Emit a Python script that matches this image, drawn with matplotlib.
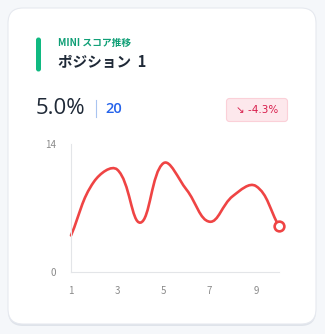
import matplotlib
matplotlib.use('Agg')
import matplotlib.pyplot as plt
from matplotlib.patches import FancyBboxPatch, PathPatch
from matplotlib.path import Path

plt.rcParams['font.family'] = ['Noto Sans CJK JP', 'DejaVu Sans']

# data
positions = [1, 2, 3, 4, 5, 6, 7, 8, 9, 10]
scores = [4.0, 9.9, 11.2, 5.4, 11.9, 9.0, 5.5, 8.3, 9.4, 5.0]
x_ticks = [1, 3, 5, 7, 9]
y_ticks = [0, 14]
subtitle = 'MINI スコア推移'
title = 'ポジション  1'
current_value = '5.0%'
rank_value = '20'
change_label = '↘ -4.3%'

W, H = 325, 334
fig = plt.figure(figsize=(W / 100, H / 100), dpi=100)
fig.patch.set_facecolor('#f5f7fa')

# background layer in pixel coordinates
bg = fig.add_axes([0, 0, 1, 1])
bg.set_xlim(0, W)
bg.set_ylim(H, 0)
bg.axis('off')

# card with shadow
bg.add_patch(FancyBboxPatch((8, 10), 308, 316, boxstyle='round,pad=0,rounding_size=15',
                            fc='#dfe3ea', ec='none'))
bg.add_patch(FancyBboxPatch((8, 8), 308, 316, boxstyle='round,pad=0,rounding_size=15',
                            fc='white', ec='#e6e9ef', lw=0.8))

# header
bg.add_patch(FancyBboxPatch((36, 37.5), 5, 34, boxstyle='round,pad=0,rounding_size=2.5',
                            fc='#10b981', ec='none'))
bg.text(58, 42.5, subtitle, fontsize=7, color='#0f9f76', fontweight='bold', va='center')
bg.text(58, 62, title, fontsize=10.5, color='#1f2937', fontweight='bold', va='center')

# value row
bg.text(36, 108, current_value, fontsize=16, color='#1f2937', va='center',
        fontweight='medium', family=['Open Sans', 'DejaVu Sans'])
bg.plot([96, 96], [100, 117], color='#a9c4f0', lw=0.8)
bg.text(105, 109, rank_value, fontsize=10.5, color='#2563eb', fontweight='semibold', va='center',
        family=['Open Sans', 'DejaVu Sans'])

# change badge
bg.add_patch(FancyBboxPatch((226.5, 98.5), 61, 23, boxstyle='round,pad=0,rounding_size=3',
                            fc='#fde8ec', ec='#fbd0d8', lw=0.8))
bg.text(257, 110, change_label, fontsize=7.5, color='#d81b4a', va='center', ha='center',
        family=['DejaVu Sans'])

# chart
ax_w, ax_h = 208, 128
ax = fig.add_axes([71 / W, 1 - 272 / H, ax_w / W, ax_h / H])
ax.set_xlim(1, 10)
ax.set_ylim(0, 14)
ax.patch.set_alpha(0)

# smooth curve through points (spline like chart.js, tension 0.4)
sx, sy = ax_w / 9, ax_h / 14
t = 0.4
n = len(positions)
ctrl = []
for i in range(n):
    p0 = (positions[max(i - 1, 0)], scores[max(i - 1, 0)])
    p1 = (positions[i], scores[i])
    p2 = (positions[min(i + 1, n - 1)], scores[min(i + 1, n - 1)])
    d01 = (((p1[0] - p0[0]) * sx) ** 2 + ((p1[1] - p0[1]) * sy) ** 2) ** 0.5
    d12 = (((p2[0] - p1[0]) * sx) ** 2 + ((p2[1] - p1[1]) * sy) ** 2) ** 0.5
    s01 = d01 / (d01 + d12) if d01 + d12 else 0
    s12 = d12 / (d01 + d12) if d01 + d12 else 0
    fa, fb = t * s01, t * s12
    prev = (p1[0] - fa * (p2[0] - p0[0]), p1[1] - fa * (p2[1] - p0[1]))
    nxt = (p1[0] + fb * (p2[0] - p0[0]), p1[1] + fb * (p2[1] - p0[1]))
    ctrl.append((prev, nxt))
verts = [(positions[0], scores[0])]
codes = [Path.MOVETO]
for i in range(n - 1):
    verts += [ctrl[i][1], ctrl[i + 1][0], (positions[i + 1], scores[i + 1])]
    codes += [Path.CURVE4] * 3
ax.add_patch(PathPatch(Path(verts, codes), fc='none', ec='#ef4444', lw=1.9,
                       capstyle='round', joinstyle='round', clip_on=False))
ax.plot(positions[-1:], scores[-1:], 'o', ms=7, mfc='white', mec='#ef4444', mew=1.9,
        clip_on=False, zorder=5)

for s in ['top', 'right']:
    ax.spines[s].set_visible(False)
for s in ['left', 'bottom']:
    ax.spines[s].set_color('#e3e5e8')
    ax.spines[s].set_linewidth(0.8)
ax.set_xticks(x_ticks)
ax.set_yticks(y_ticks)
ax.tick_params(length=0, labelsize=7, labelcolor='#8a8a8a')
ax.tick_params(axis='x', pad=10)
ax.tick_params(axis='y', pad=11)

fig.savefig('out.png', dpi=100)
